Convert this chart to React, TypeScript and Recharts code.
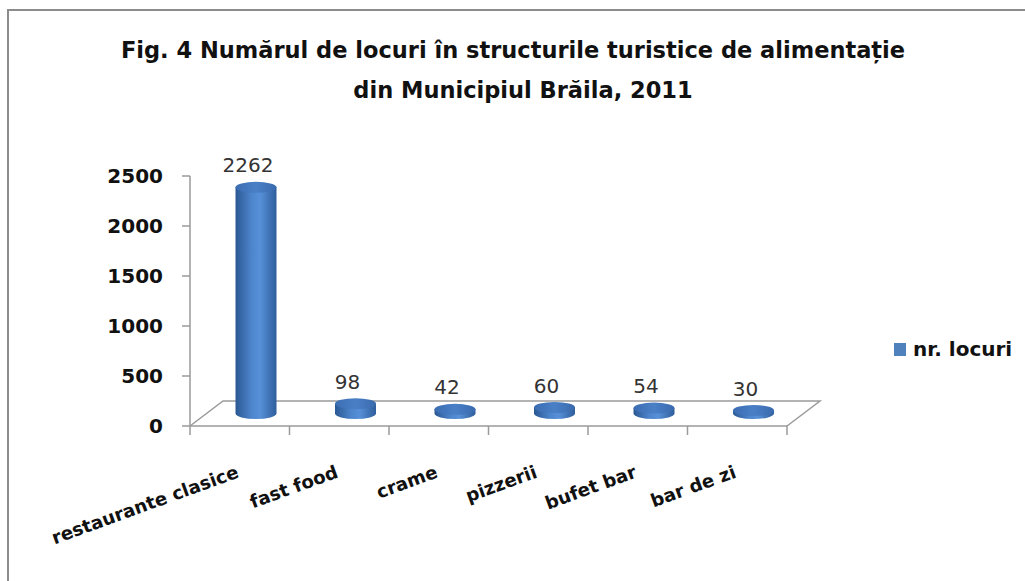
import React from "react";
import { BarChart, Bar, XAxis, YAxis, LabelList, Customized } from "recharts";

const categories = [
  "restaurante clasice",
  "fast food",
  "crame",
  "pizzerii",
  "bufet bar",
  "bar de zi",
];
const locuri = [2262, 98, 42, 60, 54, 30];
const yTicks = [0, 500, 1000, 1500, 2000, 2500];

const data = categories.map((name, i) => ({ name, locuri: locuri[i] }));

const W = 1025;
const H = 581;
const PLOT_LEFT = 190;
const PLOT_RIGHT = 787;
const PLOT_TOP = 176;
const PLOT_BOTTOM = 426;
const DEPTH_X = 33;
const DEPTH_Y = -25;
const BAND = (PLOT_RIGHT - PLOT_LEFT) / categories.length;
const FONT = "'DejaVu Sans', Verdana, sans-serif";
const AXIS = "#9a9a9a";

function Cylinder(props: any) {
  const { x, y, width, height } = props;
  const cx = x + width / 2 + DEPTH_X / 2;
  const rx = width / 2;
  const ry = 5.5;
  const x0 = cx - rx;
  const x1 = cx + rx;
  const top = y + DEPTH_Y / 2;
  const bot = y + height + DEPTH_Y / 2;
  const body = `M${x0},${top} L${x0},${bot} A${rx},${ry} 0 0 0 ${x1},${bot} L${x1},${top} Z`;
  return (
    <g>
      <path d={body} fill="url(#cylBody)" />
      <ellipse cx={cx} cy={top} rx={rx} ry={ry} fill="url(#cylTop)" />
    </g>
  );
}

function Floor() {
  return (
    <g>
      <defs>
        <linearGradient id="cylBody" x1="0" y1="0" x2="1" y2="0">
          <stop offset="0" stopColor="#2b5893" />
          <stop offset="0.4" stopColor="#4e86cd" />
          <stop offset="0.6" stopColor="#5790d8" />
          <stop offset="1" stopColor="#2f5e9c" />
        </linearGradient>
        <linearGradient id="cylTop" x1="0" y1="0" x2="1" y2="0">
          <stop offset="0" stopColor="#3b6db2" />
          <stop offset="0.5" stopColor="#4a7fc6" />
          <stop offset="1" stopColor="#3a6aae" />
        </linearGradient>
      </defs>
      <path
        d={`M${PLOT_LEFT},${PLOT_BOTTOM} L${PLOT_LEFT + DEPTH_X},${PLOT_BOTTOM + DEPTH_Y} L${PLOT_RIGHT + DEPTH_X},${PLOT_BOTTOM + DEPTH_Y} L${PLOT_RIGHT},${PLOT_BOTTOM}`}
        fill="none"
        stroke={AXIS}
        strokeWidth={1.5}
      />
    </g>
  );
}

function Title() {
  return (
    <text
      textAnchor="middle"
      fontFamily={FONT}
      fontWeight="bold"
      fontSize={22.5}
      fill="#111"
    >
      <tspan x={513} y={58}>
        Fig. 4 Numărul de locuri în structurile turistice de alimentație
      </tspan>
      <tspan x={523} y={98}>
        din Municipiul Brăila, 2011
      </tspan>
    </text>
  );
}

function CategoryTick(props: any) {
  const { x, payload, index } = props;
  const left = x - BAND / 2;
  const right = x + BAND / 2;
  const ty = 477;
  return (
    <g>
      <line x1={left} y1={PLOT_BOTTOM} x2={left} y2={PLOT_BOTTOM + 9} stroke={AXIS} strokeWidth={1.5} />
      {index === categories.length - 1 && (
        <line x1={right} y1={PLOT_BOTTOM} x2={right} y2={PLOT_BOTTOM + 9} stroke={AXIS} strokeWidth={1.5} />
      )}
      <text
        x={x}
        y={ty}
        textAnchor="end"
        transform={`rotate(-20, ${x}, ${ty})`}
        fontFamily={FONT}
        fontWeight="bold"
        fontSize={18.2}
        fill="#111"
      >
        {payload.value}
      </text>
    </g>
  );
}

function ValueLabel(props: any) {
  const { x, y, width, value } = props;
  return (
    <text
      x={x + width / 2 + DEPTH_X / 2 - 8}
      y={y + DEPTH_Y / 2 - 15}
      textAnchor="middle"
      fontFamily={FONT}
      fontSize={20}
      fill="#333"
    >
      {value}
    </text>
  );
}

export default function App() {
  return (
    <div style={{ position: "absolute", left: 0, top: 0, width: W, height: H, background: "#fff" }}>
      <div
        style={{
          position: "absolute",
          left: 7,
          top: 9,
          right: -4,
          bottom: -4,
          borderLeft: "2px solid #8c8c8c",
          borderTop: "2px solid #8c8c8c",
        }}
      />
      <div style={{ position: "absolute", left: 0, top: 0 }}>
        <BarChart
          width={W}
          height={H}
          data={data}
          margin={{ top: PLOT_TOP, left: PLOT_LEFT - 90, right: W - PLOT_RIGHT, bottom: 65 }}
        >
          <Customized component={<Floor />} />
          <Customized component={<Title />} />
          <YAxis
            width={90}
            domain={[0, 2500]}
            ticks={yTicks}
            interval={0}
            axisLine={{ stroke: AXIS, strokeWidth: 1.5 }}
            tickLine={{ stroke: AXIS, strokeWidth: 1.5 }}
            tickSize={8}
            tickMargin={19}
            tick={{ fontFamily: FONT, fontWeight: "bold", fontSize: 20, fill: "#111" }}
          />
          <XAxis
            dataKey="name"
            height={90}
            interval={0}
            axisLine={{ stroke: AXIS, strokeWidth: 1.5 }}
            tickLine={false}
            tick={<CategoryTick />}
          />
          <Bar
            dataKey="locuri"
            name="nr. locuri"
            barSize={41}
            shape={<Cylinder />}
            isAnimationActive={false}
          >
            <LabelList dataKey="locuri" content={<ValueLabel />} />
          </Bar>
        </BarChart>
      </div>
      <div
        style={{
          position: "absolute",
          left: 894,
          top: 337,
          display: "flex",
          alignItems: "center",
          fontFamily: FONT,
          fontWeight: "bold",
          fontSize: 20,
          color: "#111",
        }}
      >
        <span style={{ display: "inline-block", width: 12, height: 13, background: "#4f81bd", marginRight: 7 }} />
        nr. locuri
      </div>
    </div>
  );
}
